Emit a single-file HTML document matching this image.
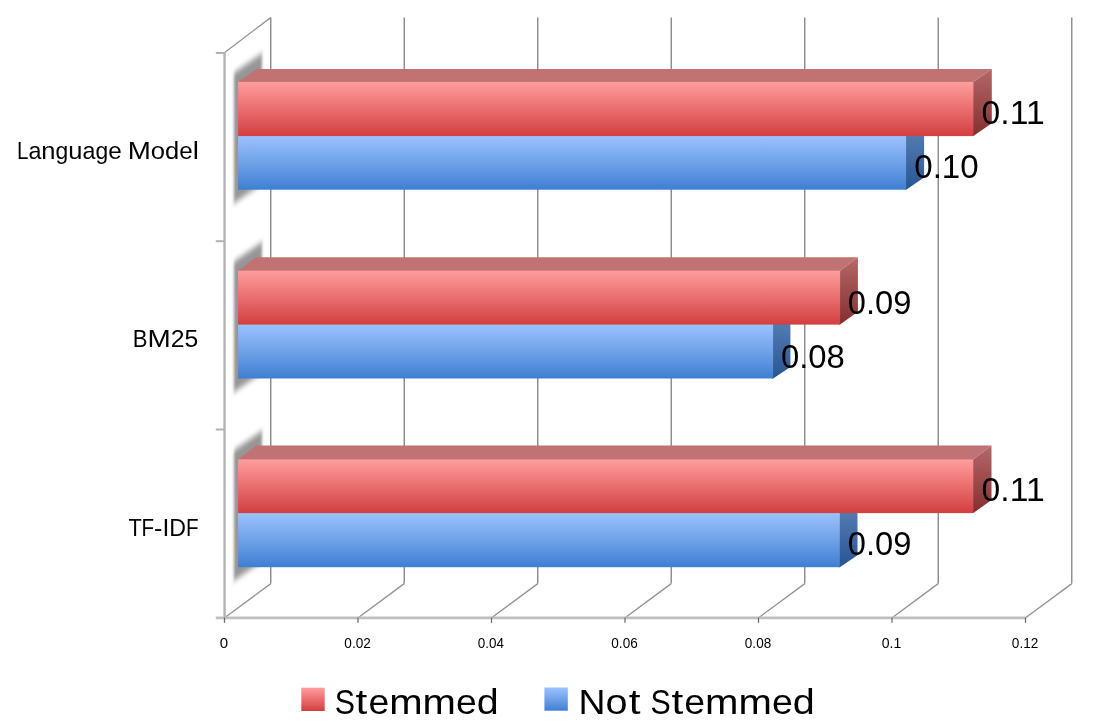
<!DOCTYPE html>
<html><head><meta charset="utf-8"><title>chart</title>
<style>
html,body{margin:0;padding:0;background:#fff;}
body{width:1101px;height:727px;overflow:hidden;}
svg{display:block;}
text{font-family:"Liberation Sans",sans-serif;fill:#000;}
</style></head><body>
<svg width="1101" height="727" viewBox="0 0 1101 727">
<defs>
<linearGradient id="gr" x1="0" y1="0" x2="0" y2="1"><stop offset="0" stop-color="#ff9d9d"/><stop offset="0.5" stop-color="#ea6e6e"/><stop offset="1" stop-color="#d23f3f"/></linearGradient>
<linearGradient id="gb" x1="0" y1="0" x2="0" y2="1"><stop offset="0" stop-color="#9cc2ff"/><stop offset="0.5" stop-color="#6fa2e8"/><stop offset="1" stop-color="#3e7fd2"/></linearGradient>
<linearGradient id="grs" x1="0" y1="0" x2="0" y2="1"><stop offset="0" stop-color="#b56767"/><stop offset="1" stop-color="#842f2f"/></linearGradient>
<linearGradient id="gbs" x1="0" y1="0" x2="0" y2="1"><stop offset="0" stop-color="#5c82b7"/><stop offset="1" stop-color="#275592"/></linearGradient>
<filter id="bl" x="-50%" y="-20%" width="200%" height="140%"><feGaussianBlur stdDeviation="1.15 3.3"/></filter>
</defs>
<rect width="1101" height="727" fill="#fff"/>
<path d="M270.8 17.6V583.6" stroke="#6f6f6f" stroke-width="1.15" fill="none"/>
<path d="M270.8 583.6L224.3 618" stroke="#939393" stroke-width="1.35" fill="none"/>
<path d="M404.2 17.6V583.6" stroke="#6f6f6f" stroke-width="1.15" fill="none"/>
<path d="M404.2 583.6L357.8 618" stroke="#939393" stroke-width="1.35" fill="none"/>
<path d="M537.8 17.6V583.6" stroke="#6f6f6f" stroke-width="1.15" fill="none"/>
<path d="M537.8 583.6L491.3 618" stroke="#939393" stroke-width="1.35" fill="none"/>
<path d="M671.2 17.6V583.6" stroke="#6f6f6f" stroke-width="1.15" fill="none"/>
<path d="M671.2 583.6L624.8 618" stroke="#939393" stroke-width="1.35" fill="none"/>
<path d="M804.8 17.6V583.6" stroke="#6f6f6f" stroke-width="1.15" fill="none"/>
<path d="M804.8 583.6L758.3 618" stroke="#939393" stroke-width="1.35" fill="none"/>
<path d="M938.2 17.6V583.6" stroke="#6f6f6f" stroke-width="1.15" fill="none"/>
<path d="M938.2 583.6L891.8 618" stroke="#939393" stroke-width="1.35" fill="none"/>
<path d="M1071.8 17.6V583.6" stroke="#6f6f6f" stroke-width="1.15" fill="none"/>
<path d="M1071.8 583.6L1025.3 618" stroke="#939393" stroke-width="1.35" fill="none"/>
<path d="M224.4 52.8L270.6 17.6" stroke="#939393" stroke-width="1.35" fill="none"/>
<path d="M224.55 52.0V619.3" stroke="#b2b2b2" stroke-width="2.4" fill="none"/>
<path d="M215.8 617.95H1025.8" stroke="#bfbfbf" stroke-width="2.7" fill="none"/>
<path d="M215.8 53.0H224.5" stroke="#b2b2b2" stroke-width="2.0" fill="none"/>
<path d="M215.8 241.2H224.5" stroke="#b2b2b2" stroke-width="2.0" fill="none"/>
<path d="M215.8 429.5H224.5" stroke="#b2b2b2" stroke-width="2.0" fill="none"/>
<path d="M224.5 617.5V622.8" stroke="#6c6c6c" stroke-width="1.25" fill="none"/>
<path d="M358.0 617.5V622.8" stroke="#6c6c6c" stroke-width="1.25" fill="none"/>
<path d="M491.5 617.5V622.8" stroke="#6c6c6c" stroke-width="1.25" fill="none"/>
<path d="M625.0 617.5V622.8" stroke="#6c6c6c" stroke-width="1.25" fill="none"/>
<path d="M758.5 617.5V622.8" stroke="#6c6c6c" stroke-width="1.25" fill="none"/>
<path d="M892.0 617.5V622.8" stroke="#6c6c6c" stroke-width="1.25" fill="none"/>
<path d="M1025.5 617.5V622.8" stroke="#6c6c6c" stroke-width="1.25" fill="none"/>
<g transform="matrix(1 -0.69 0 1 224.4 0)"><rect x="9.5" y="79.2" width="28.1" height="130.6" fill="#000" fill-opacity="0.41" filter="url(#bl)"/></g>
<g transform="matrix(1 -0.69 0 1 224.4 0)"><rect x="9.5" y="268.0" width="28.1" height="130.6" fill="#000" fill-opacity="0.41" filter="url(#bl)"/></g>
<g transform="matrix(1 -0.69 0 1 224.4 0)"><rect x="9.5" y="456.7" width="28.1" height="130.6" fill="#000" fill-opacity="0.41" filter="url(#bl)"/></g>
<path d="M905.1 135.1H906.1L924.1 124.0V177.6L906.1 189.7H905.1Z" fill="url(#gbs)"/>
<rect x="238.1" y="135.6" width="668.0" height="54.1" fill="url(#gb)"/>
<path d="M238.1 82.9V81.9L256.5 68.9H991.8L973.4 81.9V82.9Z" fill="#c17272"/>
<path d="M972.4 81.9H973.4L991.8 68.9V123.3L973.4 136.1H972.4Z" fill="url(#grs)"/>
<rect x="238.1" y="81.9" width="735.3" height="54.2" fill="url(#gr)"/>
<path d="M772.1 323.6H773.1L790.4 313.0V366.9L773.1 378.5H772.1Z" fill="url(#gbs)"/>
<rect x="238.1" y="324.1" width="535.0" height="54.4" fill="url(#gb)"/>
<path d="M238.1 271.7V270.7L255.9 257.3H857.9L840.1 270.7V271.7Z" fill="#c17272"/>
<path d="M839.1 270.7H840.1L857.9 257.3V311.70000000000005L840.1 324.6H839.1Z" fill="url(#grs)"/>
<rect x="238.1" y="270.7" width="602.0" height="53.9" fill="url(#gr)"/>
<path d="M838.8 512.1H839.8L857.5 501.1V555.2L839.8 567.2H838.8Z" fill="url(#gbs)"/>
<rect x="238.1" y="512.6" width="601.7" height="54.6" fill="url(#gb)"/>
<path d="M238.1 460.4V459.4L256.3 445.59999999999997H991.5L973.3 459.4V460.4Z" fill="#c17272"/>
<path d="M972.3 459.4H973.3L991.5 445.59999999999997V500.1L973.3 513.1H972.3Z" fill="url(#grs)"/>
<rect x="238.1" y="459.4" width="735.2" height="53.7" fill="url(#gr)"/>
<g opacity="0.999">
<text transform="translate(981.59 123.90) scale(1.0021 1)" font-size="33.6">0.11</text>
<text transform="translate(914.21 178.10) scale(0.9857 1)" font-size="33.6">0.10</text>
<text transform="translate(847.73 313.90) scale(0.9729 1)" font-size="33.6">0.09</text>
<text transform="translate(780.92 367.80) scale(0.9772 1)" font-size="33.6">0.08</text>
<text transform="translate(981.59 500.80) scale(1.0021 1)" font-size="33.6">0.11</text>
<text transform="translate(847.73 555.10) scale(0.9729 1)" font-size="33.6">0.09</text>
<text transform="translate(17.01 158.80) scale(0.8600 1)" font-size="24.0">L</text>
<text transform="translate(28.42 158.80) scale(0.9701 1)" font-size="24.0">a</text>
<text transform="translate(41.37 158.80) scale(1.0632 1)" font-size="24.0">n</text>
<text transform="translate(55.56 158.80) scale(0.9539 1)" font-size="24.0">g</text>
<text transform="translate(68.30 158.80) scale(1.0632 1)" font-size="24.0">u</text>
<text transform="translate(82.49 158.80) scale(0.9701 1)" font-size="24.0">a</text>
<text transform="translate(95.44 158.80) scale(0.9539 1)" font-size="24.0">g</text>
<text transform="translate(108.17 158.80) scale(1.0086 1)" font-size="24.0">e</text>
<text transform="translate(127.74 158.80) scale(1.1561 1)" font-size="24.0">M</text>
<text transform="translate(150.85 158.80) scale(1.0673 1)" font-size="24.0">o</text>
<text transform="translate(165.10 158.80) scale(1.0632 1)" font-size="24.0">d</text>
<text transform="translate(179.29 158.80) scale(1.0086 1)" font-size="24.0">e</text>
<text transform="translate(192.75 158.80) scale(1.1610 1)" font-size="24.0">l</text>
<text transform="translate(132.78 346.50) scale(0.9230 1)" font-size="24.0">B</text>
<text transform="translate(147.56 346.50) scale(1.1615 1)" font-size="24.0">M</text>
<text transform="translate(170.78 346.50) scale(1.0316 1)" font-size="24.0">2</text>
<text transform="translate(184.55 346.50) scale(1.0316 1)" font-size="24.0">5</text>
<text transform="translate(128.42 535.80) scale(0.9024 1)" font-size="24.0">T</text>
<text transform="translate(141.58 535.80) scale(0.8600 1)" font-size="24.0">F</text>
<text transform="translate(154.12 535.80) scale(1.0400 1)" font-size="24.0">-</text>
<text transform="translate(162.43 535.80) scale(1.0266 1)" font-size="24.0">I</text>
<text transform="translate(169.28 535.80) scale(0.9639 1)" font-size="24.0">D</text>
<text transform="translate(185.91 535.80) scale(0.8600 1)" font-size="24.0">F</text>
<text transform="translate(219.81 648.20) scale(1.0892 1)" font-size="13.8">0</text>
<text transform="translate(344.32 648.20) scale(0.9873 1)" font-size="13.8">0.02</text>
<text transform="translate(477.82 648.20) scale(0.9762 1)" font-size="13.8">0.04</text>
<text transform="translate(611.32 648.20) scale(0.9835 1)" font-size="13.8">0.06</text>
<text transform="translate(744.82 648.20) scale(0.9835 1)" font-size="13.8">0.08</text>
<text transform="translate(881.80 648.20) scale(1.0177 1)" font-size="13.8">0.1</text>
<text transform="translate(1011.82 648.20) scale(0.9873 1)" font-size="13.8">0.12</text>
<rect x="301.3" y="687.7" width="23.4" height="23.3" fill="url(#gr)"/>
<text transform="translate(334.73 714.40) scale(0.8600 1)" font-size="35.3">S</text>
<text transform="translate(355.56 714.40) scale(1.2000 1)" font-size="35.3">t</text>
<text transform="translate(368.44 714.40) scale(1.0596 1)" font-size="35.3">e</text>
<text transform="translate(389.24 714.40) scale(1.1351 1)" font-size="35.3">m</text>
<text transform="translate(422.62 714.40) scale(1.1351 1)" font-size="35.3">m</text>
<text transform="translate(456.00 714.40) scale(1.0596 1)" font-size="35.3">e</text>
<text transform="translate(476.80 714.40) scale(1.1171 1)" font-size="35.3">d</text>
<rect x="544.4" y="687.5" width="23.4" height="23.2" fill="url(#gb)"/>
<text transform="translate(578.53 714.20) scale(1.0599 1)" font-size="35.3">N</text>
<text transform="translate(605.55 714.20) scale(1.1228 1)" font-size="35.3">o</text>
<text transform="translate(628.72 714.20) scale(1.2000 1)" font-size="35.3">t</text>
<text transform="translate(650.54 714.20) scale(0.8600 1)" font-size="35.3">S</text>
<text transform="translate(671.38 714.20) scale(1.2000 1)" font-size="35.3">t</text>
<text transform="translate(684.27 714.20) scale(1.0610 1)" font-size="35.3">e</text>
<text transform="translate(705.10 714.20) scale(1.1365 1)" font-size="35.3">m</text>
<text transform="translate(738.52 714.20) scale(1.1365 1)" font-size="35.3">m</text>
<text transform="translate(771.94 714.20) scale(1.0610 1)" font-size="35.3">e</text>
<text transform="translate(792.77 714.20) scale(1.1185 1)" font-size="35.3">d</text>
</g>
</svg>
</body></html>
